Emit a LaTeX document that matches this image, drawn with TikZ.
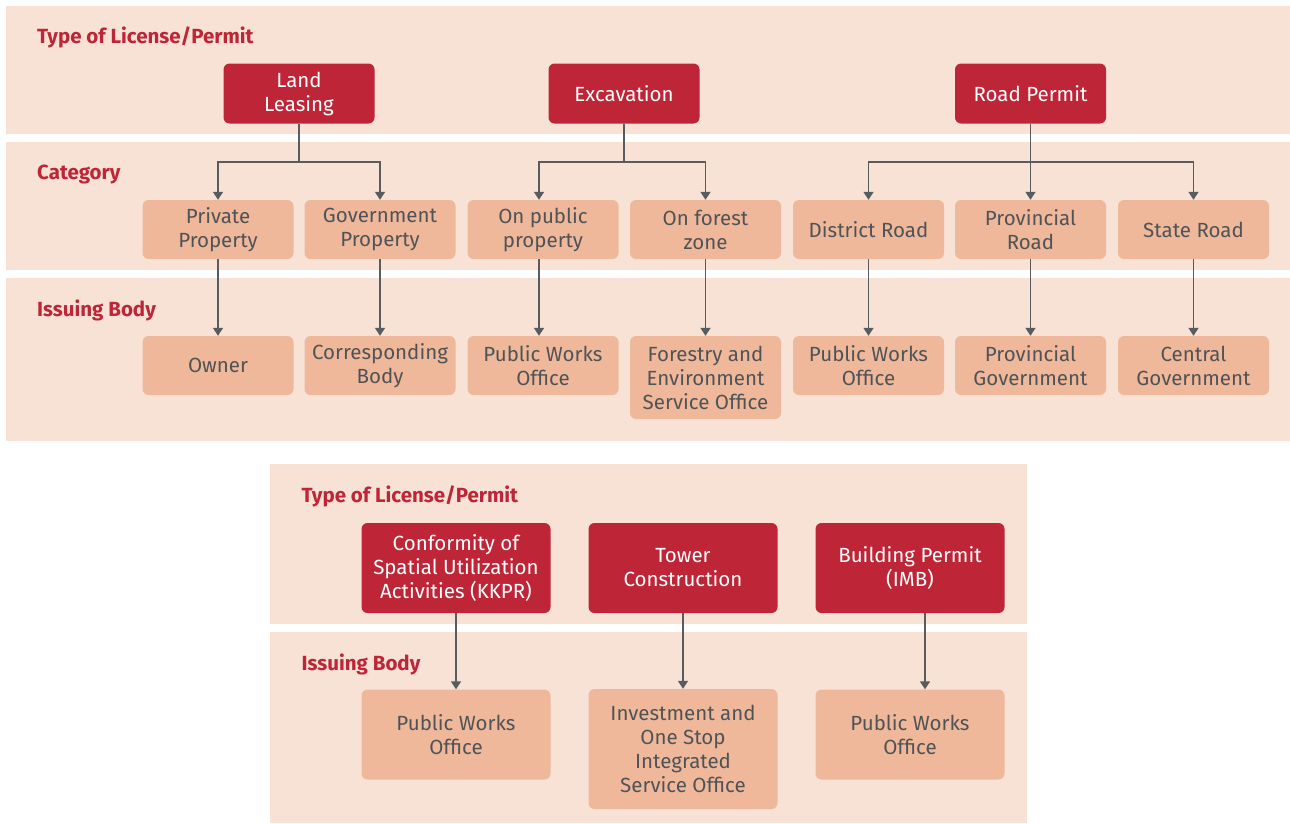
\documentclass[tikz,border=0pt]{standalone}
\usepackage{fontspec}
\setmainfont{Fira Sans}
\usetikzlibrary{arrows.meta,calc}
\definecolor{bandc}{HTML}{F8E2D6}
\definecolor{redc}{HTML}{BE2537}
\definecolor{boxc}{HTML}{F0B89A}
\definecolor{txtc}{HTML}{4F5356}
\definecolor{linec}{HTML}{585C5F}
\begin{document}
\begin{tikzpicture}[x=1pt,y=-1pt,
  redbox/.style={fill=redc,text=white,rounded corners=6pt,minimum width=151pt,minimum height=60pt,align=center,font=\fontsize{20.5}{24}\selectfont,inner sep=0pt},
  lbox/.style={fill=boxc,text=txtc,rounded corners=6pt,minimum width=151pt,minimum height=59pt,align=center,font=\fontsize{20.5}{24}\selectfont,inner sep=0pt},
  wide/.style={minimum width=189pt,minimum height=90pt},
  lab/.style={text=redc,font=\bfseries\fontsize{20.5}{24}\selectfont,anchor=base west,inner sep=0pt},
  ln/.style={draw=linec,line width=1.5pt},
  arr/.style={draw=linec,line width=1.5pt,-{Triangle[width=10pt,length=8pt]}}]
\useasboundingbox (0,0) rectangle (1290,823);
% bands
\fill[bandc] (6,6) rectangle (1290,134);
\fill[bandc] (6,142) rectangle (1290,270);
\fill[bandc] (6,278) rectangle (1290,441);
\fill[bandc] (270,464) rectangle (1027,624);
\fill[bandc] (270,632) rectangle (1027,823);
% labels
\node[lab] (l1) at (37,43.5) {Type of License/Permit};
\node[lab] (l2) at (37,179) {Category};
\node[lab] (l3) at (37,316) {Issuing Body};
\node[lab] (l4) at (301.5,502) {Type of License/Permit};
\node[lab] (l5) at (301.5,670) {Issuing Body};
% top row
\node[redbox] (land) at (299,93.5) {Land\\Leasing};
\node[redbox] (exc) at (624,93.5) {Excavation};
\node[redbox] (road) at (1030.5,93.5) {Road Permit};
% categories
\node[lbox] (c1) at (218,229.5) {Private\\Property};
\node[lbox] (c2) at (380,229.5) {Government\\Property};
\node[lbox] (c3) at (543,229.5) {On public\\property};
\node[lbox] (c4) at (705.5,229.5) {On forest\\zone};
\node[lbox] (c5) at (868.5,229.5) {District Road};
\node[lbox] (c6) at (1030.5,229.5) {Provincial\\Road};
\node[lbox] (c7) at (1193.5,229.5) {State Road};
% issuing
\node[lbox] (i1) at (218,365.5) {Owner};
\node[lbox] (i2) at (380,365.5) {Corresponding\\Body};
\node[lbox] (i3) at (543,365.5) {Public Works\\Office};
\node[lbox,minimum height=83pt] (i4) at (705.5,377.5) {Forestry and\\Environment\\Service Office};
\node[lbox] (i5) at (868.5,365.5) {Public Works\\Office};
\node[lbox] (i6) at (1030.5,365.5) {Provincial\\Government};
\node[lbox] (i7) at (1193.5,365.5) {Central\\Government};
% bottom section
\node[redbox,wide] (k1) at (456,568) {Conformity of\\Spatial Utilization\\Activities (KKPR)};
\node[redbox,wide] (k2) at (683,568) {Tower\\Construction};
\node[redbox,wide] (k3) at (910,568) {Building Permit\\(IMB)};
\node[lbox,wide] (j1) at (456,734.5) {Public Works\\Office};
\node[lbox,wide,minimum height=120pt] (j2) at (683,749) {Investment and\\One Stop\\Integrated\\Service Office};
\node[lbox,wide] (j3) at (910,734.5) {Public Works\\Office};
% connectors
\coordinate (b1) at (299,162);
\coordinate (b2) at (624,162);
\coordinate (b3) at (1030.5,162);
\draw[ln] (land.south) -- (b1);
\draw[arr] (b1) -| (c1.north);
\draw[arr] (b1) -| (c2.north);
\draw[ln] (exc.south) -- (b2);
\draw[arr] (b2) -| ([xshift=-4pt]c3.north);
\draw[arr] (b2) -| (c4.north);
\draw[arr] (road.south) -- (c6.north);
\draw[arr] (b3) -| (c5.north);
\draw[arr] (b3) -| (c7.north);
\draw[arr] (c1.south) -- (i1.north);
\draw[arr] (c2.south) -- (i2.north);
\draw[arr] ([xshift=-4pt]c3.south) -- ([xshift=-4pt]i3.north);
\draw[arr] (c4.south) -- (i4.north);
\draw[arr] (c5.south) -- (i5.north);
\draw[arr] (c6.south) -- (i6.north);
\draw[arr] (c7.south) -- (i7.north);
\draw[arr] (k1.south) -- (j1.north);
\draw[arr] (k2.south) -- (j2.north);
\draw[arr] ([xshift=15pt]k3.south) -- ([xshift=15pt]j3.north);
\end{tikzpicture}
\end{document}
